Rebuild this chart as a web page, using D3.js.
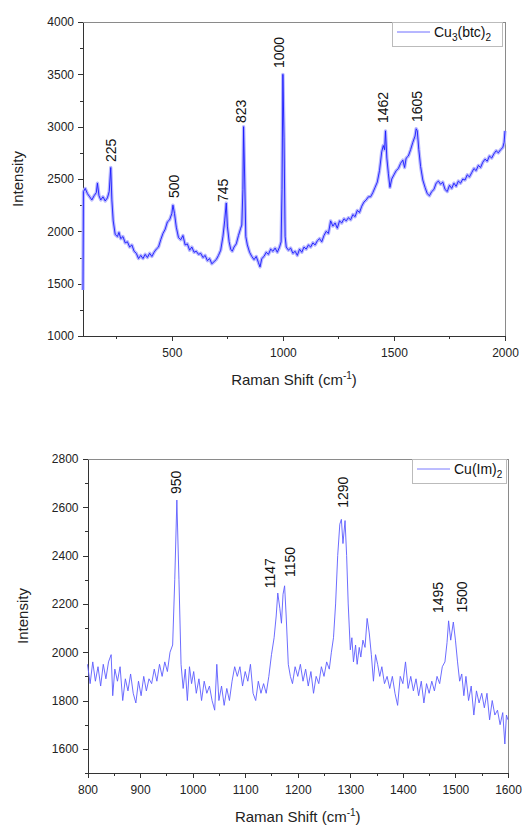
<!DOCTYPE html>
<meta charset="utf-8">
<style>
body { margin: 0; background: #fff; font-family: Arial, "Liberation Sans", sans-serif; }
.axis path, .axis line { stroke: #333; stroke-width: 1; fill: none; shape-rendering: crispEdges; }
.axis text { font-size: 12px; fill: #222; font-family: Arial, "Liberation Sans", sans-serif; }
.frame { stroke: #8a8a8a; fill: none; shape-rendering: crispEdges; }
.peak { font-size: 14px; fill: #111; }
.title { font-size: 15px; fill: #222; text-anchor: middle; }
.legend-box { fill: #fff; stroke: #bbb; shape-rendering: crispEdges; }
.legend-text { font-size: 14px; fill: #111; }
</style>
<body>
<script src="https://d3js.org/d3.v7.min.js"></script>
<script>

// ---- data: Cu3(btc)2 spectrum, [Raman shift, intensity]
var btcSpectrum = [
  [100,1440],[102,2380],[110,2410],[120,2360],[130,2330],[140,2300],[150,2340],[160,2370],
  [165,2460],[172,2340],[180,2300],[190,2330],[200,2290],[210,2320],[218,2380],[225,2610],
  [230,2300],[236,2100],[245,1970],[255,1950],[262,1990],[270,1930],[280,1950],[290,1890],
  [300,1900],[310,1850],[320,1870],[330,1810],[340,1790],[350,1740],[360,1770],[370,1740],
  [380,1780],[390,1750],[400,1790],[410,1760],[420,1800],[430,1830],[440,1850],[450,1920],
  [460,1980],[470,2020],[480,2090],[490,2110],[500,2170],[505,2250],[512,2170],[520,2040],
  [530,1940],[540,1920],[550,1960],[560,1870],[570,1880],[580,1820],[590,1850],[600,1800],
  [610,1810],[620,1780],[630,1790],[640,1750],[650,1770],[660,1720],[670,1740],[680,1690],
  [690,1710],[700,1730],[710,1770],[720,1820],[730,1950],[738,2100],[745,2270],[750,2050],
  [758,1900],[765,1830],[772,1810],[780,1850],[790,1880],[800,1960],[810,2030],[815,2060],
  [820,2400],[823,3000],[828,2500],[833,1950],[840,1870],[850,1800],[860,1760],[870,1730],
  [880,1760],[890,1700],[897,1660],[905,1740],[915,1760],[925,1800],[935,1780],[945,1830],
  [955,1810],[965,1840],[975,1800],[985,1850],[992,1900],[996,2400],[1000,3500],[1005,2900],
  [1010,1950],[1015,1850],[1025,1820],[1035,1840],[1045,1790],[1055,1810],[1065,1770],[1075,1830],
  [1085,1800],[1095,1850],[1105,1830],[1115,1870],[1125,1850],[1135,1890],[1145,1870],[1155,1910],
  [1165,1930],[1175,1900],[1185,1960],[1195,2000],[1205,1980],[1215,2100],[1225,2050],[1235,2080],
  [1245,2030],[1255,2100],[1265,2080],[1275,2120],[1285,2100],[1295,2130],[1305,2110],[1315,2160],
  [1325,2140],[1335,2200],[1345,2180],[1355,2240],[1365,2280],[1375,2300],[1385,2330],[1395,2330],
  [1405,2370],[1415,2420],[1425,2470],[1435,2580],[1445,2760],[1452,2820],[1458,2780],[1462,2960],
  [1468,2700],[1475,2550],[1482,2420],[1490,2500],[1500,2540],[1510,2580],[1520,2600],[1530,2650],
  [1540,2680],[1548,2610],[1555,2700],[1565,2720],[1575,2780],[1585,2850],[1595,2910],[1600,2980],
  [1605,2960],[1612,2780],[1620,2620],[1630,2490],[1640,2420],[1650,2360],[1660,2340],[1670,2380],
  [1680,2400],[1690,2460],[1700,2480],[1710,2450],[1720,2470],[1730,2400],[1740,2380],[1750,2440],
  [1760,2410],[1770,2460],[1780,2430],[1790,2480],[1800,2460],[1810,2500],[1820,2490],[1830,2540],
  [1840,2520],[1850,2560],[1860,2600],[1870,2580],[1880,2630],[1890,2610],[1900,2660],[1910,2690],
  [1920,2670],[1930,2720],[1940,2700],[1950,2740],[1960,2770],[1970,2750],[1980,2780],[1990,2800],
  [1996,2850],[2000,2960]
];

// ---- data: Cu(Im)2 spectrum
var imSpectrum = [
  [800,1950],[805,1870],[810,1960],[815,1880],[820,1940],[825,1860],[830,1950],[835,1890],
  [840,1960],[845,1990],[848,1820],[852,1930],[857,1880],[862,1940],[867,1800],[872,1890],
  [877,1840],[882,1910],[887,1830],[892,1790],[897,1880],[902,1820],[907,1900],[912,1840],
  [917,1890],[922,1870],[927,1930],[932,1880],[937,1950],[942,1900],[947,1960],[952,1920],
  [957,2000],[962,2030],[966,2300],[970,2630],[974,2300],[978,1950],[982,1850],[986,1930],
  [990,1800],[994,1940],[998,1870],[1002,1920],[1007,1830],[1012,1890],[1017,1800],[1022,1880],
  [1027,1830],[1032,1860],[1037,1800],[1042,1760],[1046,1950],[1050,1800],[1055,1860],[1060,1780],
  [1065,1850],[1070,1800],[1075,1880],[1080,1940],[1085,1900],[1090,1940],[1095,1860],[1100,1920],
  [1105,1880],[1110,1950],[1115,1830],[1120,1800],[1125,1880],[1130,1830],[1135,1870],[1140,1830],
  [1145,1900],[1150,1990],[1155,2060],[1159,2150],[1162,2245],[1166,2180],[1169,2120],[1172,2240],
  [1175,2275],[1178,2150],[1182,1950],[1186,1900],[1190,1870],[1195,1940],[1200,1900],[1205,1950],
  [1210,1880],[1215,1930],[1220,1860],[1225,1920],[1230,1830],[1235,1900],[1240,1870],[1245,1940],
  [1250,1900],[1255,1960],[1260,1930],[1264,2000],[1268,2060],[1272,2200],[1276,2400],[1280,2530],
  [1283,2550],[1286,2450],[1290,2545],[1293,2400],[1296,2200],[1300,2010],[1303,2060],[1306,1960],
  [1310,2030],[1313,1950],[1317,2020],[1320,1980],[1324,2050],[1328,2020],[1332,2140],[1336,2080],
  [1340,1990],[1344,1880],[1348,1990],[1352,1950],[1356,1900],[1360,1940],[1365,1870],[1370,1900],
  [1375,1850],[1380,1900],[1385,1830],[1390,1780],[1395,1900],[1400,1870],[1405,1960],[1410,1850],
  [1415,1900],[1420,1840],[1425,1890],[1430,1820],[1435,1880],[1440,1790],[1445,1870],[1450,1830],
  [1455,1880],[1460,1840],[1465,1900],[1470,1870],[1475,1940],[1480,1960],[1484,2040],[1487,2130],
  [1491,2050],[1496,2125],[1500,2050],[1504,1960],[1508,1880],[1512,1910],[1516,1820],[1520,1900],
  [1525,1800],[1530,1860],[1535,1740],[1540,1840],[1545,1790],[1550,1830],[1555,1770],[1560,1830],
  [1565,1720],[1570,1800],[1575,1740],[1580,1760],[1585,1700],[1590,1750],[1594,1620],[1597,1740],
  [1600,1720]
];

// peak labels: text, shift where it stands, intensity at its lower end
var btcPeakNames = ["225", "500", "745", "823", "1000", "1462", "1605"];
var btcPeakShift = [226, 510, 731, 810, 983, 1450, 1603];
var btcPeakLevel = [2662, 2318, 2280, 3034, 3560, 3034, 3044];

var imPeakNames = ["950", "1147", "1150", "1290", "1495", "1500"];
var imPeakShift = [968, 1147, 1185, 1287, 1467, 1512];
var imPeakLevel = [2655, 2265, 2311, 2598, 2162, 2164];

// tick values
var btcXMajor = [500, 1000, 1500, 2000], btcXMinor = [250, 750, 1250, 1750];
var btcYMajor = [1000, 1500, 2000, 2500, 3000, 3500, 4000], btcYMinor = [1250, 1750, 2250, 2750, 3250, 3750];
var imXMajor = [800, 900, 1000, 1100, 1200, 1300, 1400, 1500, 1600], imXMinor = [850, 950, 1050, 1150, 1250, 1350, 1450, 1550];
var imYMajor = [1600, 1800, 2000, 2200, 2400, 2600, 2800], imYMinor = [1500, 1700, 1900, 2100, 2300, 2500, 2700];

var svg = d3.select("body").append("svg")
    .attr("width", 528)
    .attr("height", 825);

var fmt = d3.format("d");

function panel(p) {
    var x = d3.scaleLinear().domain(p.xDomain).range([p.left, p.right]);
    var y = d3.scaleLinear().domain(p.yDomain).range([p.bottom, p.top]);
    var g = svg.append("g");

    // frame (top + right)
    g.append("path").attr("class", "frame")
        .attr("d", "M" + p.left + "," + p.top + "H" + p.right + "V" + p.bottom);

    // minor ticks
    g.append("g").attr("class", "axis")
        .attr("transform", "translate(0," + p.bottom + ")")
        .call(d3.axisBottom(x).tickValues(p.xMinor).tickSize(3).tickSizeOuter(0).tickFormat(""));
    g.append("g").attr("class", "axis")
        .attr("transform", "translate(" + p.left + ",0)")
        .call(d3.axisLeft(y).tickValues(p.yMinor).tickSize(3).tickSizeOuter(0).tickFormat(""));
    // major ticks
    g.append("g").attr("class", "axis")
        .attr("transform", "translate(0," + p.bottom + ")")
        .call(d3.axisBottom(x).tickValues(p.xMajor).tickSize(5).tickSizeOuter(0).tickPadding(7).tickFormat(fmt));
    g.append("g").attr("class", "axis")
        .attr("transform", "translate(" + p.left + ",0)")
        .call(d3.axisLeft(y).tickValues(p.yMajor).tickSize(5).tickSizeOuter(0).tickPadding(4).tickFormat(fmt));

    var line = d3.line()
        .x(function(d) { return x(d[0]); })
        .y(function(d) { return y(d[1]); });

    if (p.halo) {
        g.append("path").attr("d", line(p.data))
            .attr("fill", "none").attr("stroke", p.halo)
            .attr("stroke-width", 3.4).attr("stroke-linejoin", "round");
    }
    g.append("path").attr("d", line(p.data))
        .attr("fill", "none").attr("stroke", p.color)
        .attr("stroke-width", p.width).attr("stroke-linejoin", "round");

    // peak labels
    p.peakNames.forEach(function(name, i) {
        g.append("text").attr("class", "peak")
            .attr("transform", "translate(" + x(p.peakShift[i]) + "," + y(p.peakLevel[i]) + ") rotate(-90)")
            .attr("dy", "0.35em")
            .text(name);
    });

    // legend
    var lx = p.right - p.legendRight - p.legendWidth;
    g.append("rect").attr("class", "legend-box")
        .attr("x", lx).attr("y", p.top).attr("width", p.legendWidth).attr("height", 24);
    g.append("line")
        .attr("x1", lx + 5).attr("x2", lx + 38)
        .attr("y1", p.top + 10).attr("y2", p.top + 10)
        .attr("stroke", p.legendColor).attr("stroke-width", 1);
    var lt = g.append("text").attr("class", "legend-text")
        .attr("x", lx + 42).attr("y", p.top + 15);
    p.legend.forEach(function(part) {
        if (part.sub) {
            lt.append("tspan").attr("font-size", "10px").attr("dy", 4).text(part.sub);
        } else {
            lt.append("tspan").attr("dy", part.after ? -4 : 0).text(part.text);
        }
    });

    // axis titles
    g.append("text").attr("class", "title")
        .attr("transform", "translate(" + p.yTitleX + "," + (p.top + p.bottom) / 2 + ") rotate(-90)")
        .text("Intensity");
    var xt = g.append("text").attr("class", "title")
        .attr("x", (p.left + p.right) / 2).attr("y", p.bottom + 49);
    xt.append("tspan").text("Raman Shift (cm");
    xt.append("tspan").attr("font-size", "10px").attr("dy", -6).text("-1");
    xt.append("tspan").attr("dy", 6).text(")");
}

panel({
    data: btcSpectrum, xDomain: [100, 2000], yDomain: [1000, 4000],
    left: 83, right: 505, top: 22, bottom: 336,
    xMajor: btcXMajor, xMinor: btcXMinor, yMajor: btcYMajor, yMinor: btcYMinor,
    color: "#1818ff", halo: "#b8b8ff", width: 0.9,
    peakNames: btcPeakNames, peakShift: btcPeakShift, peakLevel: btcPeakLevel,
    legend: [{text: "Cu"}, {sub: "3"}, {text: "(btc)", after: true}, {sub: "2"}],
    legendWidth: 110, legendRight: 3, legendColor: "#6f6fff",
    yTitleX: 23
});

panel({
    data: imSpectrum, xDomain: [800, 1600], yDomain: [1500, 2800],
    left: 87.5, right: 508, top: 459, bottom: 773,
    xMajor: imXMajor, xMinor: imXMinor, yMajor: imYMajor, yMinor: imYMinor,
    color: "#5c5cff", halo: null, width: 0.9,
    peakNames: imPeakNames, peakShift: imPeakShift, peakLevel: imPeakLevel,
    legend: [{text: "Cu(Im)"}, {sub: "2"}],
    legendWidth: 94, legendRight: 2, legendColor: "#7a7aff",
    yTitleX: 28
});

</script>
</body>
